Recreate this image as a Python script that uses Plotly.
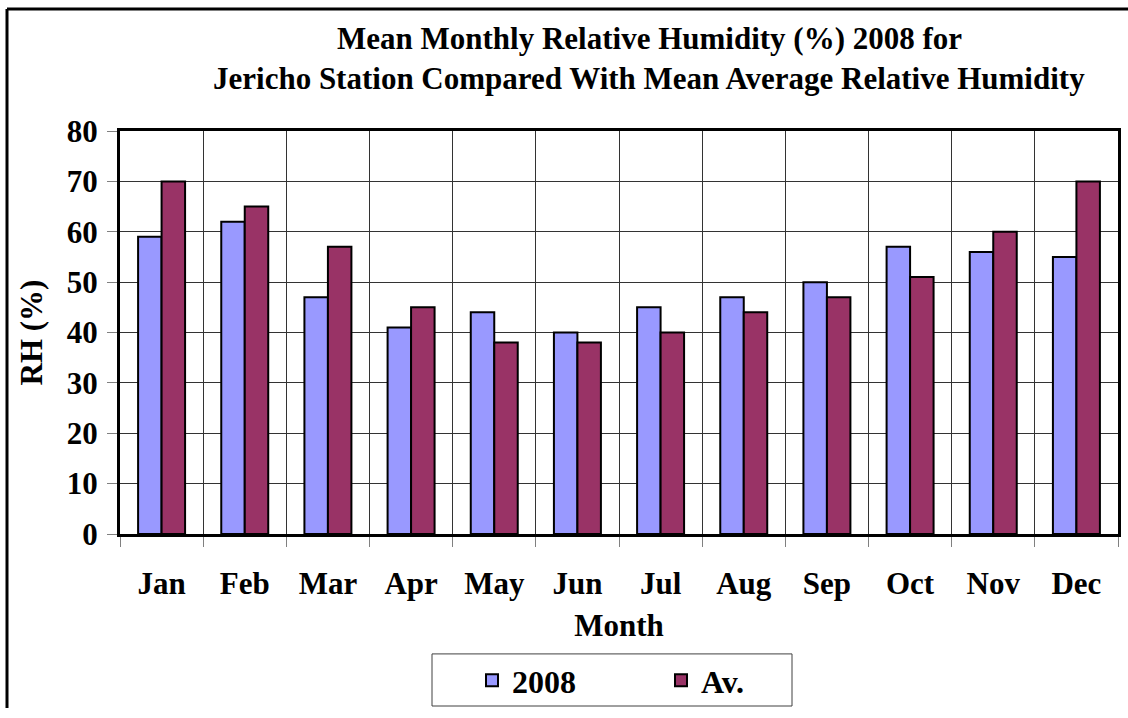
import plotly.graph_objects as go

months = ["Jan", "Feb", "Mar", "Apr", "May", "Jun", "Jul", "Aug", "Sep", "Oct", "Nov", "Dec"]
rh_2008 = [59, 62, 47, 41, 44, 40, 45, 47, 50, 57, 56, 55]
rh_avg = [70, 65, 57, 45, 38, 38, 40, 44, 47, 51, 60, 70]
y_ticks = [0, 10, 20, 30, 40, 50, 60, 70, 80]
title_lines = ["Mean Monthly Relative Humidity (%) 2008 for",
               "Jericho Station Compared With Mean Average Relative Humidity"]

FONT = "Liberation Serif, Times New Roman, serif"
W, H = 1128, 718
L, R, T, B = 120, 1118, 131, 541
PW, PH = R - L, B - T


def px_x(x):
    return (x - L) / PW


def px_y(y):
    return (B - y) / PH


fig = go.Figure()
fig.add_trace(go.Bar(name="2008", x=months, y=rh_2008,
                     marker=dict(color="#9999FF", line=dict(color="black", width=2))))
fig.add_trace(go.Bar(name="Av.", x=months, y=rh_avg,
                     marker=dict(color="#993366", line=dict(color="black", width=2))))

fig.update_layout(
    width=W, height=H, autosize=False,
    margin=dict(l=L, r=W - R, t=T, b=H - B, pad=0),
    paper_bgcolor="white", plot_bgcolor="white",
    barmode="group", bargap=0.435, bargroupgap=0,
    font=dict(family=FONT, size=31, color="black", weight="bold"),
    xaxis=dict(
        type="category", tickson="boundaries", automargin=False,
        showgrid=True, gridcolor="#333333", gridwidth=1,
        ticks="outside", ticklen=10, tickcolor="#808080", tickwidth=1,
        showline=True, linecolor="black", linewidth=3, mirror=True,
        tickfont=dict(family=FONT, size=31, weight="bold"),
        ticklabelstandoff=20,
        title=dict(text="Month", standoff=15, font=dict(family=FONT, size=31, weight="bold")),
    ),
    yaxis=dict(
        range=[0, 80], tickvals=y_ticks, ticktext=[str(v) for v in y_ticks], automargin=False,
        showgrid=True, gridcolor="#333333", gridwidth=1, zeroline=False,
        ticks="outside", ticklen=10, tickcolor="#808080", tickwidth=1,
        showline=True, linecolor="black", linewidth=3, mirror=True,
        tickfont=dict(family=FONT, size=31, weight="bold"),
        ticklabelstandoff=3,
        title=dict(text="RH (%)", standoff=15, font=dict(family=FONT, size=31, weight="bold")),
    ),
    legend=dict(
        orientation="h", xref="paper", yref="paper",
        x=px_x(472), xanchor="left",
        y=px_y(662), yanchor="top",
        borderwidth=0, bgcolor="rgba(0,0,0,0)",
        font=dict(family=FONT, size=32, weight="bold"),
        entrywidth=144,
    ),
    showlegend=True,
)

# title lines
for line, yc in zip(title_lines, [37, 78]):
    fig.add_annotation(text=line, xref="paper", yref="paper",
                       x=px_x(649), y=px_y(yc), xanchor="center", yanchor="middle",
                       showarrow=False,
                       font=dict(family=FONT, size=31, color="black", weight="bold"))

# legend box
fig.add_shape(type="rect", xref="paper", yref="paper",
              x0=px_x(432), x1=px_x(792), y0=px_y(716), y1=px_y(663),
              line=dict(color="#404040", width=1), fillcolor="white", layer="below")

# outer chart border (only top and left edges fall inside the picture)
fig.add_shape(type="line", xref="paper", yref="paper",
              x0=px_x(7), x1=px_x(W), y0=px_y(7), y1=px_y(7),
              line=dict(color="black", width=3), layer="below")
fig.add_shape(type="line", xref="paper", yref="paper",
              x0=px_x(7), x1=px_x(7), y0=px_y(7), y1=px_y(H),
              line=dict(color="black", width=3), layer="below")

page_fix = ("var gd=document.getElementById('{plot_id}');"
            "gd.style.position='fixed';gd.style.top='0';gd.style.left='0';"
            "gd.style.zIndex='1000';gd.style.background='white';"
            "document.documentElement.style.margin='0';"
            "document.body.style.margin='0';document.body.style.padding='0';"
            "document.documentElement.style.overflow='hidden';"
            "document.body.style.overflow='hidden';")
fig.write_html("out.html", post_script=page_fix,
               config={"displayModeBar": False, "responsive": False})
